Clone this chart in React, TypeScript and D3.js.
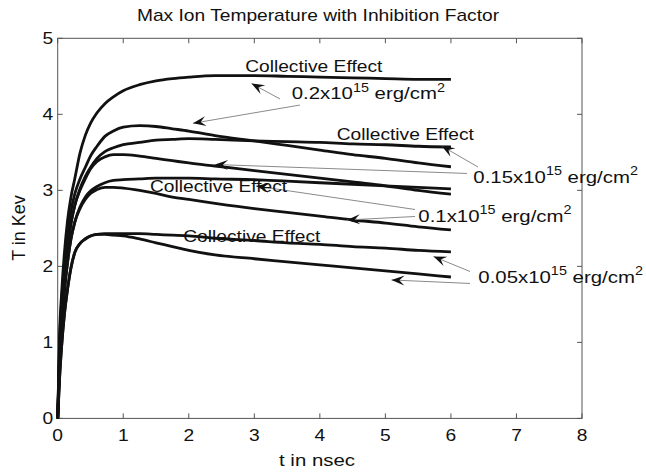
import React from 'react';
import * as d3 from 'd3';

// ---------- data ----------
const timeNs = [0, 0.03, 0.06, 0.1, 0.15, 0.2, 0.26, 0.34, 0.42, 0.5, 0.6, 0.72, 0.85, 1.0, 1.25, 1.5, 1.75, 2.0, 2.4, 3.0, 3.5, 4.0, 4.5, 5.0, 5.5, 6.0];

const flux02Collective = [0, 1.15, 1.65, 2.15, 2.6, 2.9, 3.15, 3.49, 3.72, 3.88, 4.02, 4.14, 4.23, 4.31, 4.39, 4.44, 4.47, 4.49, 4.51, 4.51, 4.5, 4.49, 4.48, 4.47, 4.46, 4.46];
const flux02 = [0, 1.05, 1.55, 2.0, 2.45, 2.72, 2.95, 3.15, 3.3, 3.45, 3.58, 3.71, 3.78, 3.83, 3.85, 3.84, 3.81, 3.78, 3.72, 3.65, 3.59, 3.53, 3.47, 3.42, 3.36, 3.31];
const flux015Collective = [0, 0.9, 1.4, 1.85, 2.25, 2.55, 2.8, 3.02, 3.18, 3.3, 3.42, 3.51, 3.56, 3.6, 3.63, 3.66, 3.67, 3.68, 3.67, 3.65, 3.64, 3.63, 3.61, 3.6, 3.58, 3.57];
const flux015 = [0, 0.9, 1.4, 1.85, 2.25, 2.55, 2.8, 3.0, 3.15, 3.28, 3.38, 3.44, 3.47, 3.47, 3.45, 3.42, 3.39, 3.36, 3.32, 3.26, 3.21, 3.16, 3.11, 3.06, 3.0, 2.95];
const flux01Collective = [0, 0.75, 1.2, 1.65, 2.05, 2.35, 2.58, 2.78, 2.91, 2.99, 3.05, 3.1, 3.13, 3.14, 3.15, 3.16, 3.16, 3.16, 3.15, 3.14, 3.12, 3.1, 3.08, 3.06, 3.04, 3.02];
const flux01 = [0, 0.75, 1.2, 1.65, 2.05, 2.35, 2.58, 2.76, 2.88, 2.96, 3.01, 3.04, 3.04, 3.03, 3.0, 2.96, 2.91, 2.88, 2.83, 2.76, 2.71, 2.66, 2.61, 2.57, 2.52, 2.48];
const flux005Collective = [0, 0.55, 0.95, 1.35, 1.7, 1.97, 2.18, 2.3, 2.36, 2.4, 2.42, 2.43, 2.43, 2.43, 2.43, 2.42, 2.41, 2.4, 2.37, 2.34, 2.31, 2.29, 2.26, 2.24, 2.21, 2.19];
const flux005 = [0, 0.55, 0.95, 1.35, 1.7, 1.97, 2.18, 2.3, 2.36, 2.4, 2.42, 2.42, 2.41, 2.4, 2.36, 2.31, 2.26, 2.21, 2.15, 2.1, 2.06, 2.02, 1.98, 1.94, 1.9, 1.86];

const seriesList = [flux02Collective, flux02, flux015Collective, flux015, flux01Collective, flux01, flux005Collective, flux005];

const xTicks = [0, 1, 2, 3, 4, 5, 6, 7, 8];
const yTicks = [0, 1, 2, 3, 4, 5];

const titleText = 'Max Ion Temperature with Inhibition Factor';
const xLabelText = 't in nsec';
const yLabelText = 'T in Kev';
const collectiveText = 'Collective Effect';
const fluxMantissas = ['0.2', '0.15', '0.1', '0.05'];

// annotation anchors in data coordinates [t, T]
const collectiveAnchors: [number, number][] = [[2.86, 4.557], [4.257, 3.662], [1.408, 2.982], [1.916, 2.324]];
const fluxAnchors: [number, number][] = [[3.57, 4.195], [6.342, 3.092], [5.502, 2.587], [6.418, 1.777]];
const arrowTails: [number, number][] = [[3.392, 4.202], [3.697, 4.122], [6.413, 3.307], [6.245, 3.222], [5.452, 2.748], [5.452, 2.656], [6.291, 1.932], [6.291, 1.775]];
const arrowHeads: [number, number][] = [[2.957, 4.405], [2.064, 3.882], [5.859, 3.583], [2.4, 3.34], [3.026, 3.057], [4.414, 2.61], [5.734, 2.13], [5.093, 1.821]];

// ---------- layout ----------
const W = 646;
const H = 473;
const X0 = 57.7;
const X1 = 582;
const Y0 = 418.4;
const Y1 = 38.3;
const SX = 1.2;
const FONT = '"Liberation Sans", Arial, Helvetica, sans-serif';
const INK = '#111';

function Stretched({ x, y, anchor = 'start', size = 16, children }: any) {
  return (
    <g transform={`translate(${x},${y}) scale(${SX},1)`}>
      <text x={0} y={0} textAnchor={anchor} fontSize={size} fontFamily={FONT} fill={INK}>
        {children}
      </text>
    </g>
  );
}

function Arrow({ x1, y1, x2, y2 }: any) {
  const ang = (Math.atan2(y2 - y1, x2 - x1) * 180) / Math.PI;
  const L = 13;
  const Wd = 5;
  return (
    <g>
      <line x1={x1} y1={y1} x2={x2} y2={y2} stroke="#8a8a8a" strokeWidth={1} />
      <path
        d={`M0,0 L${-L},${-Wd} L${-L * 0.6},0 L${-L},${Wd} Z`}
        transform={`translate(${x2},${y2}) rotate(${ang})`}
        fill={INK}
      />
    </g>
  );
}

export default function App() {
  const x = d3.scaleLinear().domain([0, 8]).range([X0, X1]);
  const y = d3.scaleLinear().domain([0, 5]).range([Y0, Y1]);
  const line = d3
    .line<number>()
    .x((_, i) => x(timeNs[i]))
    .y((d) => y(d))
    .curve(d3.curveMonotoneX);

  const tickLen = 5;
  return (
    <svg width={W} height={H} style={{ position: 'absolute', left: 0, top: 0, background: '#fff' }}>
      <rect x={0} y={0} width={W} height={H} fill="#fff" />
      {/* box */}
      <rect x={X0} y={Y1} width={X1 - X0} height={Y0 - Y1} fill="none" stroke="#555" strokeWidth={1} />
      {xTicks.map((t) => (
        <g key={'xt' + t}>
          <line x1={x(t)} x2={x(t)} y1={Y0} y2={Y0 - tickLen} stroke="#555" />
          <line x1={x(t)} x2={x(t)} y1={Y1} y2={Y1 + tickLen} stroke="#555" />
          <Stretched x={x(t)} y={441} anchor="middle">{String(t)}</Stretched>
        </g>
      ))}
      {yTicks.map((v) => (
        <g key={'yt' + v}>
          <line x1={X0} x2={X0 + tickLen} y1={y(v)} y2={y(v)} stroke="#555" />
          <line x1={X1} x2={X1 - tickLen} y1={y(v)} y2={y(v)} stroke="#555" />
          <Stretched x={X0 - 4.5} y={y(v) + 5.5} anchor="end">{String(v)}</Stretched>
        </g>
      ))}
      {/* curves */}
      {seriesList.map((s, i) => (
        <path key={'c' + i} d={line(s) || ''} fill="none" stroke={INK} strokeWidth={2.8} strokeLinejoin="round" />
      ))}
      {/* arrows */}
      {arrowTails.map((tl, i) => (
        <Arrow key={'a' + i} x1={x(tl[0])} y1={y(tl[1])} x2={x(arrowHeads[i][0])} y2={y(arrowHeads[i][1])} />
      ))}
      {/* labels */}
      {collectiveAnchors.map((p, i) => (
        <Stretched key={'ce' + i} x={x(p[0])} y={y(p[1])} size={16}>{collectiveText}</Stretched>
      ))}
      {fluxAnchors.map((p, i) => (
        <g key={'fl' + i} transform={`translate(${x(p[0])},${y(p[1])}) scale(${SX},1)`}>
          <text x={0} y={0} fontSize={17} fontFamily={FONT} fill={INK}>
            {fluxMantissas[i] + 'x10'}
            <tspan fontSize={12} dy={-8}>15</tspan>
            <tspan dy={8}>{' erg/cm'}</tspan>
            <tspan fontSize={12} dy={-8}>2</tspan>
          </text>
        </g>
      ))}
      {/* title and axis labels */}
      <Stretched x={318} y={21} anchor="middle" size={16}>{titleText}</Stretched>
      <Stretched x={317} y={466} anchor="middle" size={17}>{xLabelText}</Stretched>
      <g transform={`translate(25,228) rotate(-90)`}>
        <text x={0} y={0} textAnchor="middle" fontSize={18} fontFamily={FONT} fill={INK}>{yLabelText}</text>
      </g>
    </svg>
  );
}
